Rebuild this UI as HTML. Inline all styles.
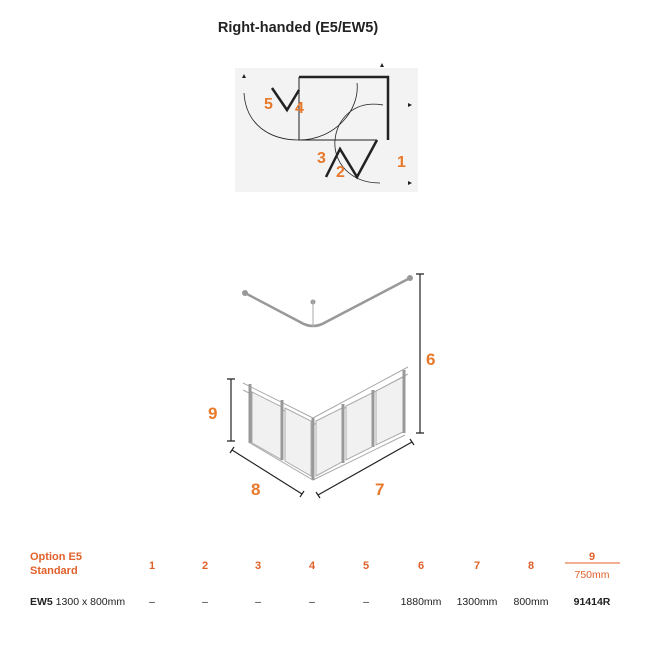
<!DOCTYPE html>
<html><head><meta charset="utf-8"><style>
body{margin:0;background:#fff;width:650px;height:650px;overflow:hidden;font-family:"Liberation Sans",sans-serif}
</style></head><body>
<svg width="650" height="650" xmlns="http://www.w3.org/2000/svg" font-family="Liberation Sans, sans-serif">
<text x="298" y="32" text-anchor="middle" font-size="14.5" font-weight="bold" fill="#222">Right-handed (E5/EW5)</text>
<rect x="235" y="68" width="183" height="124" fill="#f3f3f3"/>
<g fill="none" stroke="#222">
<path d="M299,77 H388 V140" stroke-width="2.5"/>
<path d="M299,77 V140 H377" stroke-width="1"/>
<path d="M377,140 L357,177 L340,149 L326,177" stroke-width="2.5"/>
<path d="M272,88 L287,110 L299,90" stroke-width="2.5"/>
<path d="M244,93 C246,125 270,140 299,140 C335,140 360,110 357,83" stroke-width="0.8"/>
<path d="M383,105 C355,100 337,118 335,140 C333,162 350,183 380,183" stroke-width="0.8"/>
</g>
<g fill="#222"><path d="M242,78 l2,-4 l2,4z"/><path d="M380,67 l2,-4 l2,4z"/><path d="M408,103 l4,2 l-4,2z"/><path d="M408,181 l4,2 l-4,2z"/></g>
<g fill="#e8792b" font-size="16" font-weight="bold">
<text x="264" y="109">5</text><text x="295" y="113">4</text><text x="317" y="163">3</text><text x="336" y="177">2</text><text x="397" y="167">1</text>
</g>
<g fill="none" stroke="#999" stroke-width="2.5">
<path d="M245,293 L300,322 Q313,330 326,322 L410,278"/>
</g>
<g fill="#999"><circle cx="245" cy="293" r="3"/><circle cx="410" cy="278" r="3"/><circle cx="313" cy="302" r="2.5"/></g>
<g stroke="#aaa" stroke-width="1" fill="none">
<path d="M313,300 V327"/>
<path d="M243,383 L313,418 L408,367"/>
<path d="M250,443 L313,480 L405,435"/>
<path d="M243,390 L313,425 L408,374"/>
</g>
<g fill="#f1f1f1" stroke="#aaa" stroke-width="1">
<path d="M252,392 L282,407 L282,460 L252,443z"/>
<path d="M285,408 L311,421 L311,476 L285,461z"/>
<path d="M316,421 L342,408 L342,462 L316,476z"/>
<path d="M346,406 L372,393 L372,447 L346,460z"/>
<path d="M376,391 L403,377 L403,432 L376,445z"/>
</g>
<g stroke="#999" stroke-width="3">
<path d="M250,384 V443M282,400 V460M313,418 V480M343,404 V463M373,390 V447M404,370 V433"/>
</g>
<g stroke="#222" stroke-width="1.2">
<path d="M420,274 V433M416,274 H424M416,433 H424"/>
<path d="M231,379 V441M227,379 H235M227,441 H235"/>
<path d="M232,450 L302,494M230,453 L234,447M300,497 L304,491"/>
<path d="M318,495 L412,442M316,492 L320,498M410,439 L414,445"/>
</g>
<g fill="#e8792b" font-size="17" font-weight="bold">
<text x="426" y="365">6</text><text x="208" y="419">9</text><text x="251" y="495">8</text><text x="375" y="495">7</text>
</g>
<g fill="#e0602a" font-size="11" font-weight="bold">
<text x="30" y="560">Option E5</text><text x="30" y="574">Standard</text>
<g text-anchor="middle"><text x="152" y="569">1</text><text x="205" y="569">2</text><text x="258" y="569">3</text><text x="312" y="569">4</text><text x="366" y="569">5</text><text x="421" y="569">6</text><text x="477" y="569">7</text><text x="531" y="569">8</text><text x="592" y="560">9</text></g>
</g>
<line x1="565" y1="563" x2="620" y2="563" stroke="#e0602a" stroke-width="1"/>
<text x="592" y="578" text-anchor="middle" font-size="10.5" fill="#e0602a">750mm</text>
<g font-size="10.5" fill="#222">
<text x="30" y="605"><tspan font-weight="bold">EW5</tspan> 1300 x 800mm</text>
<g text-anchor="middle"><text x="152" y="605">–</text><text x="205" y="605">–</text><text x="258" y="605">–</text><text x="312" y="605">–</text><text x="366" y="605">–</text><text x="421" y="605">1880mm</text><text x="477" y="605">1300mm</text><text x="531" y="605">800mm</text><text x="592" y="605" font-weight="bold">91414R</text></g>
</g>
</svg>
</body></html>
